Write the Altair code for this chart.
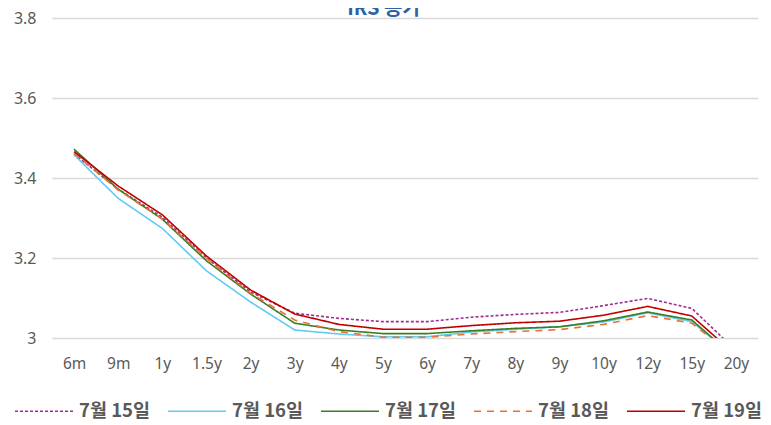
import altair as alt
import pandas as pd

tenors = ["6m", "9m", "1y", "1.5y", "2y", "3y", "4y", "5y", "6y", "7y", "8y", "9y", "10y", "12y", "15y", "20y"]
series_names = ["7월 15일", "7월 16일", "7월 17일", "7월 18일", "7월 19일"]
jul15 = [3.460, 3.372, 3.302, 3.200, 3.115, 3.062, 3.049, 3.041, 3.041, 3.052, 3.059, 3.064, 3.081, 3.099, 3.074, 2.969]
jul16 = [3.458, 3.349, 3.274, 3.168, 3.090, 3.020, 3.010, 3.003, 3.003, 3.015, 3.022, 3.028, 3.040, 3.063, 3.041, 2.950]
jul17 = [3.472, 3.372, 3.297, 3.193, 3.110, 3.037, 3.020, 3.011, 3.011, 3.018, 3.024, 3.028, 3.043, 3.065, 3.045, 2.949]
jul18 = [3.462, 3.370, 3.298, 3.199, 3.112, 3.045, 3.016, 3.002, 3.002, 3.010, 3.016, 3.021, 3.034, 3.056, 3.037, 2.950]
jul19 = [3.466, 3.380, 3.308, 3.205, 3.120, 3.060, 3.034, 3.022, 3.022, 3.031, 3.038, 3.042, 3.057, 3.079, 3.055, 2.957]
y_ticks = [3.0, 3.2, 3.4, 3.6, 3.8]
title_text = "IRS 종가"

colors = ["#A02B93", "#61CBF3", "#3A7D22", "#E97132", "#C00000"]
dashes = [[3, 2], [1, 0], [1, 0], [7, 6], [1, 0]]
widths = [1.6, 1.6, 2.0, 2.6, 3.2]

rows = []
for name, vals in zip(series_names, [jul15, jul16, jul17, jul18, jul19]):
    for t, v in zip(tenors, vals):
        rows.append({"tenor": t, "value": v, "series": name})
df = pd.DataFrame(rows)

leg = alt.Legend(
    title=None, orient="none", legendX=-38, legendY=363, direction="horizontal", columns=5,
    symbolType="stroke", symbolSize=3364,
    labelFont="Noto Sans CJK KR", labelFontWeight="bold", labelFontSize=18.5,
    labelColor="#595959", labelOffset=5, columnPadding=14, padding=0, labelLimit=200,
)

lines = alt.Chart(df).mark_line(clip=True).encode(
    x=alt.X("tenor:N", sort=tenors, title=None,
            scale=alt.Scale(type="point", padding=0.5),
            axis=alt.Axis(labelAngle=0, tickSize=0, domain=False, grid=False,
                          labelPadding=18, labelFontSize=15.5, labelColor="#595959",
                          labelFont="Noto Sans")),
    y=alt.Y("value:Q", title=None,
            scale=alt.Scale(domain=[3.0, 3.8], nice=False, zero=False),
            axis=alt.Axis(values=y_ticks, format="~g", tickSize=0, domain=False,
                          gridColor="#D9D9D9", gridWidth=1.5, labelPadding=16,
                          labelFontSize=16, labelColor="#595959", labelFont="Noto Sans")),
    color=alt.Color("series:N", sort=series_names, legend=leg,
                    scale=alt.Scale(domain=series_names, range=colors)),
    strokeDash=alt.StrokeDash("series:N", sort=series_names, legend=leg,
                              scale=alt.Scale(domain=series_names, range=dashes)),
    strokeWidth=alt.StrokeWidth("series:N", sort=series_names, legend=leg,
                                scale=alt.Scale(domain=series_names, range=widths)),
)

title = alt.Chart(pd.DataFrame({"t": [title_text]})).mark_text(
    font="Noto Sans CJK KR", fontWeight="bold", fontSize=20, color="#2E62A6",
    align="center", baseline="alphabetic", clip=False
).encode(text="t:N", x=alt.value(332), y=alt.value(-3))

chart = alt.layer(lines, title).properties(
    width=706, height=320,
    padding={"left": 44, "top": 10, "right": 5, "bottom": 88},
    autosize=alt.AutoSizeParams(type="none"),
).configure_view(stroke=None)

chart.save("out.html", embed_options={"renderer": "svg", "actions": False})
